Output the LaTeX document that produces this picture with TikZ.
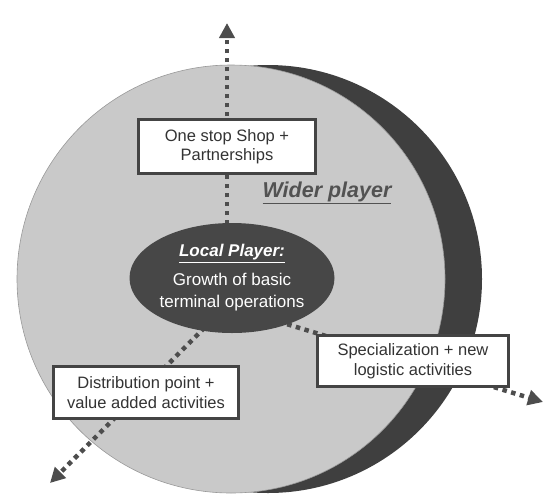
\documentclass[tikz,border=0pt]{standalone}
\usepackage{fontspec}
\setmainfont{Liberation Sans}
\usetikzlibrary{arrows.meta,shapes.geometric}
\definecolor{sphere}{HTML}{C9C9C9}
\definecolor{rimdark}{HTML}{3F3F3F}
\definecolor{core}{HTML}{474747}
\definecolor{ink}{HTML}{333333}
\definecolor{frame}{HTML}{444444}
\definecolor{trail}{HTML}{4D4D4D}
\tikzset{
  textbox/.style={draw=frame, line width=3pt, fill=white, text=ink,
    align=center, inner sep=0pt, font=\fontsize{16.5}{19.5}\selectfont},
  growth/.style={draw=trail, line width=4.5pt, dash pattern=on 4.5pt off 4.5pt,
    -{Triangle[width=15pt,length=15pt]}},
}
\begin{document}
\begin{tikzpicture}[x=1pt,y=-1pt]
  \useasboundingbox (0,0) rectangle (545,501);
  % shadowed sphere
  \fill[rimdark] (268,279) circle[radius=214];
  \fill[sphere] (231,279) circle[radius=214];
  \draw[gray!80, line width=0.6pt] (231,279) circle[radius=214];

  % arrow ends
  \coordinate (topTip) at (227,23);
  \coordinate (leftTip) at (50,483);
  \coordinate (rightTip) at (543,402);
  \coordinate (leftStart) at (230,302);
  \coordinate (rightStart) at (270,319);
  \coordinate (upStart) at (227,260);

  % dotted growth paths (drawn beneath the core and the boxes)
  \draw[growth] (upStart) -- (topTip);
  \draw[growth] (leftStart) -- (leftTip);
  \draw[growth] (rightStart) -- (rightTip);

  % core ellipse
  \node[ellipse, fill=core, minimum width=205pt, minimum height=110pt, inner sep=0pt,
        text=white, align=center, font=\fontsize{17}{22}\selectfont]
    (local) at (232,278)
    {\underline{\textbf{\textit{Local Player:}}}\\[7pt] Growth of basic\\terminal operations};

  % growth directions
  \node[textbox, minimum width=177pt, minimum height=54pt] (shop) at (227,146.5)
    {One stop Shop +\\Partnerships};
  \node[textbox, minimum width=185pt, minimum height=52pt] (dist) at (146,392.5)
    {Distribution point +\\value added activities};
  \node[textbox, minimum width=191pt, minimum height=51pt] (spec) at (413,361)
    {Specialization + new\\logistic activities};

  % outer label
  \node[anchor=base, text=ink!85, font=\fontsize{21.5}{24}\selectfont\bfseries\itshape,
        inner sep=0pt] (wider) at (327,197) {\underline{Wider player}};
\end{tikzpicture}
\end{document}
